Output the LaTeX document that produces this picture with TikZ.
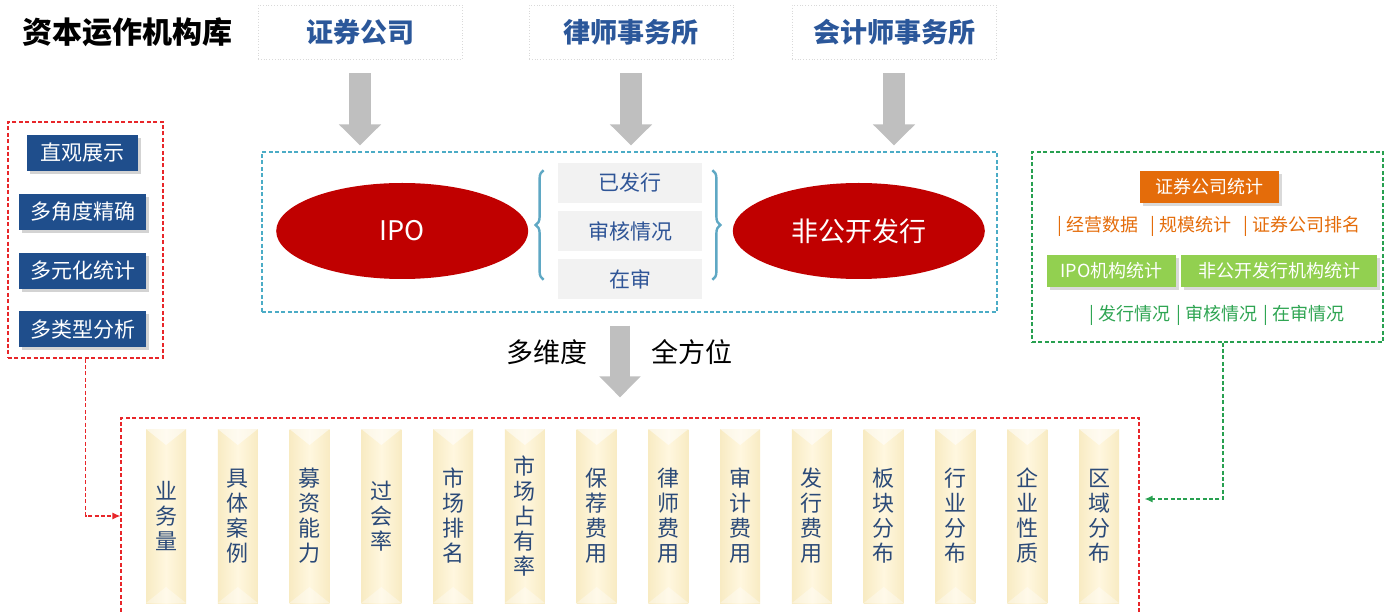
\documentclass[tikz,border=0pt]{standalone}
\usepackage{fontspec}
\setmainfont{Noto Sans CJK SC}
\usepackage{xcolor}
\usetikzlibrary{positioning,arrows.meta,shapes,shadows,decorations.pathreplacing}
\tikzset{>=latex}
\definecolor{titleblue}{HTML}{2B579A}
\definecolor{navy}{HTML}{1F4E8C}
\definecolor{ovred}{HTML}{C00000}
\definecolor{itemgray}{HTML}{F2F2F2}
\definecolor{itemtext}{HTML}{2F5597}
\definecolor{bracecol}{HTML}{5FA8C4}
\definecolor{ctrblue}{HTML}{4BACC6}
\definecolor{arrgray}{HTML}{BFBFBF}
\definecolor{redline}{HTML}{E8262A}
\definecolor{greenline}{HTML}{28A050}
\definecolor{orng}{HTML}{E46C0A}
\definecolor{lime}{HTML}{92D050}
\definecolor{txtgreen}{HTML}{2FA553}
\definecolor{colblue}{HTML}{2B4A78}
\definecolor{colside}{HTML}{F8EBC3}
\definecolor{colmid}{HTML}{FFF7DF}
\newcommand{\fsz}[1]{\fontsize{#1}{#1}\selectfont}

\begin{document}
\begin{tikzpicture}[x=0.5pt,y=-0.5pt,
    topbox/.style={draw=black!15,densely dotted,minimum width=102pt,minimum height=27pt,
        text=titleblue,font=\bfseries\fsz{13.5}},
    fatarrow/.style={draw=arrgray,line width=11pt,-{Triangle[length=10.5pt,width=20.5pt]}},
    frame/.style={draw,line width=0.6pt,dash pattern=on 2pt off 1.2pt,inner sep=0pt},
    link/.style={line width=0.6pt,dash pattern=on 2pt off 1.2pt,-{Latex[length=4pt,width=3.5pt]}},
    btn/.style={fill=navy,text=white,minimum height=18pt,font=\fsz{10.5},
        drop shadow={opacity=0.35,shadow xshift=1.5pt,shadow yshift=-1.5pt}},
    ovl/.style={ellipse,fill=ovred,text=white,minimum width=126pt,minimum height=48pt,font=\fsz{13.5}},
    item/.style={fill=itemgray,text=itemtext,minimum width=72pt,minimum height=20pt,font=\fsz{10.5}},
    tag/.style={text=white,minimum height=16pt,font=\fsz{9},
        drop shadow={opacity=0.3,shadow xshift=1.5pt,shadow yshift=-1.5pt}},
    col/.style={minimum width=20pt,minimum height=87pt,align=center,text=colblue,
        font={\fontsize{11}{12.5}\selectfont},
        left color=colside,right color=colside,middle color=colmid,
        path picture={\fill[white,opacity=0.55] (path picture bounding box.north west) --
            (path picture bounding box.north east) -- ([yshift=-8pt]path picture bounding box.north) -- cycle;
            \fill[white,opacity=0.35] (path picture bounding box.south west) --
            (path picture bounding box.south east) -- ([yshift=8pt]path picture bounding box.south) -- cycle;}},
]
    \useasboundingbox (0,0) rectangle (1385,614);

    % title and sources
    \node [anchor=west,font=\bfseries\fsz{15}] (title) at (15,32) {资本运作机构库};
    \node [topbox] (zq) at (360,32) {证券公司};
    \node [topbox] (ls) at (631,32) {律师事务所};
    \node [topbox] (kj) at (894,32) {会计师事务所};

    % issuing types
    \node [frame,draw=ctrblue,minimum width=367.5pt,minimum height=80pt] (ctr) at (629.5,232) {};
    \node [item] (it2) at (630,231) {审核情况};
    \node [item,above=3.75pt of it2] (it1) {已发行};
    \node [item,below=3.75pt of it2] (it3) {在审};
    \node [ovl,left=14.5pt of it2] (ipo) {IPO};
    \node [ovl,right=15pt of it2] (fgk) {非公开发行};
    \draw [bracecol,line width=1.2pt,decorate,decoration={brace,amplitude=4pt}]
        ([shift={(-7pt,10pt)}]it3.south west) -- ([shift={(-7pt,-4pt)}]it1.north west);
    \draw [bracecol,line width=1.2pt,decorate,decoration={brace,amplitude=4pt}]
        ([shift={(5pt,-4pt)}]it1.north east) -- ([shift={(5pt,10pt)}]it3.south east);

    \draw [fatarrow,shorten <=7pt,shorten >=3pt] (zq.south) -- (zq.south |- ctr.north);
    \draw [fatarrow,shorten <=7pt,shorten >=3pt] (ls.south) -- (ls.south |- ctr.north);
    \draw [fatarrow,shorten <=7pt,shorten >=3pt] (kj.south) -- (kj.south |- ctr.north);

    % left panel
    \node [frame,draw=redline,minimum width=77.5pt,minimum height=118pt] (lbox) at (85.5,240) {};
    \node [btn,minimum width=55.5pt] (b1) at (82.5,153) {直观展示};
    \node [btn,minimum width=63.5pt,below=11pt of b1] (b2) {多角度精确};
    \node [btn,minimum width=63.5pt,below=11pt of b2] (b3) {多元化统计};
    \node [btn,minimum width=63.5pt,below=11pt of b3] (b4) {多类型分析};

    % right panel
    \node [frame,draw=greenline,minimum width=175.5pt,minimum height=95pt] (rbox) at (1207.5,247) {};
    \node [tag,fill=orng,minimum width=69.5pt] (zqtj) at (1209.5,187) {证券公司统计};
    \node [text=orng,font=\fsz{9}] (zqsub) at (1209,226)
        {|\hspace{2pt}经营数据\hspace{6pt}|\hspace{2pt}规模统计\hspace{6pt}|\hspace{2pt}证券公司排名};
    \node [tag,fill=lime,minimum width=64.5pt] (ipotj) at (1111.5,271) {IPO机构统计};
    \node [tag,fill=lime,minimum width=98pt] (fgktj) at (1279,271) {非公开发行机构统计};
    \node [text=txtgreen,font=\fsz{9}] (fxsub) at (1217,315)
        {|\hspace{2pt}发行情况\hspace{3pt}|\hspace{2pt}审核情况\hspace{3pt}|\hspace{2pt}在审情况};

    % indicators
    \node [frame,draw=redline,minimum width=509pt,minimum height=100pt] (bbox) at (630,518) {};
    \draw [fatarrow,line width=10pt,-{Triangle[length=10.5pt,width=20pt]},shorten <=6.5pt,shorten >=10pt]
        ([xshift=-4.75pt]ctr.south) -- ([xshift=-4.75pt]ctr.south |- bbox.north);
    \node [font=\fsz{13.5}] (dw) at (547,352) {多维度};
    \node [font=\fsz{13.5}] (qf) at (692,352) {全方位};

    \foreach \t [count=\i from 0] in {{业\\务\\量},{具\\体\\案\\例},{募\\资\\能\\力},{过\\会\\率},
        {市\\场\\排\\名},{市\\场\\占\\有\\率},{保\\荐\\费\\用},{律\\师\\费\\用},{审\\计\\费\\用},
        {发\\行\\费\\用},{板\\块\\分\\布},{行\\业\\分\\布},{企\\业\\性\\质},{区\\域\\分\\布}}
        \node [col] (c\i) at (166+71.77*\i,516) {\t};

    \draw [link,draw=redline] (lbox.south) |- (c0.west -| bbox.west);
    \draw [link,draw=greenline,shorten >=2.5pt]
        ([xshift=7.75pt]rbox.south) |- ([yshift=9.5pt]bbox.east);
\end{tikzpicture}
\end{document}
